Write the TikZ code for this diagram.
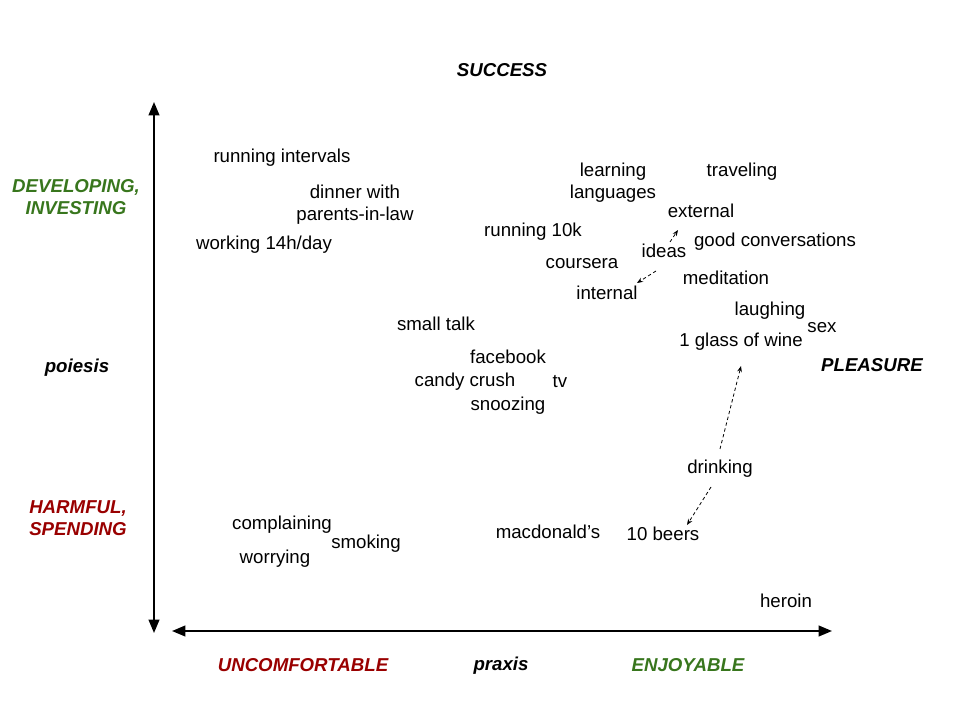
\documentclass[tikz,border=0pt]{standalone}
\usepackage{fontspec}
\setmainfont{Liberation Sans}
\usetikzlibrary{arrows.meta,calc}
\definecolor{devgreen}{HTML}{38761D}
\definecolor{harmred}{HTML}{990000}
\begin{document}
\begin{tikzpicture}[x=0.75pt,y=-0.75pt,
  lbl/.style={inner sep=0pt,font=\fontsize{14pt}{16.5pt}\selectfont,text height=1.5ex,text depth=.25ex,align=center,yshift=-1.5pt},
  head/.style={lbl,font=\fontsize{14pt}{16.5pt}\selectfont\bfseries\itshape},
  axis/.style={line width=1.5pt,{Triangle[length=10pt,width=8pt]}-{Triangle[length=10pt,width=8pt]}},
  dasharrow/.style={dashed,dash pattern=on 2.5pt off 2pt,line width=0.6pt,-{Stealth[length=4.5pt,width=3.5pt]}}]
\useasboundingbox (0,0) rectangle (960,720);
% axes
\coordinate (vt) at (154,102);
\coordinate (vb) at (154,633);
\coordinate (hl) at (172,631);
\coordinate (hr) at (832,631);
\draw[axis] (vb) -- (vt);
\draw[axis] (hl) -- (hr);
% headings
\node[head] (success) at (502,70) {SUCCESS};
\node[head,text=devgreen] (dev) at (76,208) {DEVELOPING,\\INVESTING};
\node[head] (poiesis) at (77,366) {poiesis};
\node[head] (pleasure) at (872,365) {PLEASURE};
\node[head,text=harmred] (harm) at (78,529) {HARMFUL,\\SPENDING};
\node[head,text=harmred] (uncomf) at (303,665) {UNCOMFORTABLE};
\node[head] (praxis) at (501,664) {praxis};
\node[head,text=devgreen] (enjoy) at (688,665) {ENJOYABLE};
% items
\node[lbl] (runint) at (282,156) {running intervals};
\node[lbl] (dinner) at (355,214) {dinner with\\parents-in-law};
\node[lbl] (work) at (264,243) {working 14h/day};
\node[lbl] (lang) at (613,192) {learning\\languages};
\node[lbl] (travel) at (742,170) {traveling};
\node[lbl] (external) at (701,211) {external};
\node[lbl] (run10) at (533,230) {running 10k};
\node[lbl] (ideas) at (664,251) {ideas};
\node[lbl] (goodconv) at (775,240) {good conversations};
\node[lbl] (coursera) at (582,262) {coursera};
\node[lbl] (medit) at (726,278) {meditation};
\node[lbl] (internal) at (607,293) {internal};
\node[lbl] (laugh) at (770,309) {laughing};
\node[lbl] (sex) at (822,326) {sex};
\node[lbl] (wine) at (741,340) {1 glass of wine};
\node[lbl] (smalltalk) at (436,324) {small talk};
\node[lbl] (fb) at (508,357) {facebook};
\node[lbl] (candy) at (465,380) {candy crush};
\node[lbl] (tv) at (560,381) {tv};
\node[lbl] (snooze) at (508,404) {snoozing};
\node[lbl] (drink) at (720,467) {drinking};
\node[lbl] (beers) at (663,534) {10 beers};
\node[lbl] (macd) at (548,532) {macdonald’s};
\node[lbl] (complain) at (282,523) {complaining};
\node[lbl] (smoke) at (366,542) {smoking};
\node[lbl] (worry) at (275,557) {worrying};
\node[lbl] (heroin) at (786,601) {heroin};
% dashed arrows
\draw[dasharrow] ($(ideas)+(6,-11)$) -- ($(external)+(-23,17)$);
\draw[dasharrow] ($(ideas)+(-8,18)$) -- ($(internal)+(30,-12)$);
\draw[dasharrow] ($(drink)+(0,-20)$) -- ($(wine)+(0,24)$);
\draw[dasharrow] ($(drink)+(-9,18)$) -- ($(beers)+(24,-11)$);
\end{tikzpicture}
\end{document}
